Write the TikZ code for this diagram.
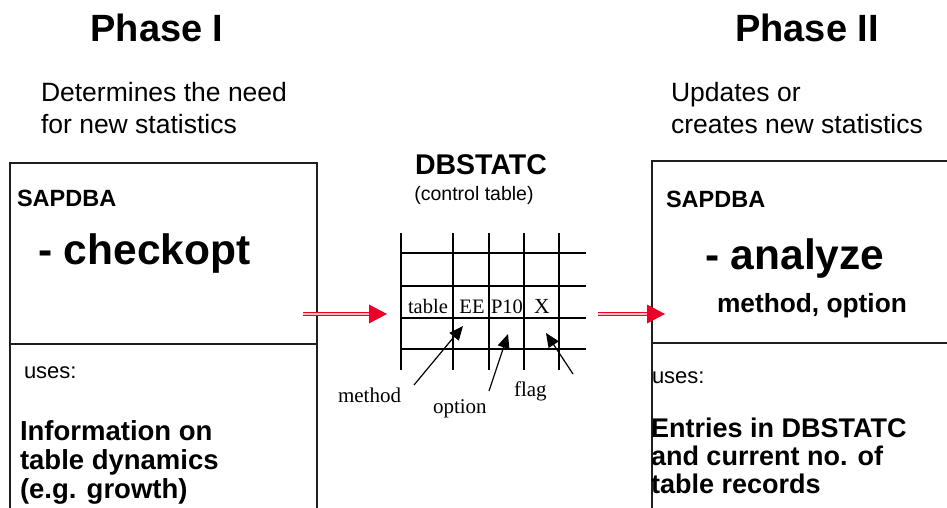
\documentclass[tikz,border=0pt]{standalone}
\usepackage{fontspec}
\setmainfont{Liberation Sans}
\newfontfamily\tms{Liberation Serif}
\usetikzlibrary{arrows.meta,calc}
\definecolor{arrred}{RGB}{236,0,40}
\definecolor{arrpink}{RGB}{255,190,200}
\definecolor{linegray}{RGB}{30,30,30}
\tikzset{
  txt/.style={inner sep=0pt, outer sep=0pt, anchor=base west},
  ctxt/.style={inner sep=0pt, outer sep=0pt, anchor=base},
  boxline/.style={draw=linegray, line width=1.3pt},
  gridline/.style={draw=black, line width=1.2pt},
  redshaft/.style={draw=arrred, line width=1.1pt, double=arrpink, double distance=2pt},
  redhead/.style={fill=arrred},
  pointer/.style={draw=black, line width=1.2pt, -{Triangle[length=14pt,width=12pt]}},
}
\newcommand{\fs}[1]{\fontsize{#1}{#1}\selectfont}
\begin{document}
\begin{tikzpicture}[x=1pt,y=-1pt]
\useasboundingbox (0,0) rectangle (947,508);
\clip (0,0) rectangle (947,508);
\fill[white] (0,0) rectangle (947,508);

% titles
\node[ctxt] (ph1) at (157,42) {\fs{38}\bfseries Phase I};
\node[ctxt] (ph2) at (807,42) {\fs{38}\bfseries Phase II};
\node[txt] (d1) at (41,102) {\fs{26.5}Determines the need};
\node[txt] (d2) at (41,133) {\fs{26.5}for new statistics};
\node[txt] (u1) at (671,102) {\fs{26.5}Updates or};
\node[txt] (u2) at (671,133) {\fs{26.5}creates new statistics};

% left box
\path[boxline] (10,520) -- (10,163) -- (317,163) -- (317,520);
\path[boxline] (10,344) -- (317,344);
\node[txt] (ls) at (17,206) {\fs{23.5}\bfseries SAPDBA};
\node[txt] (lc) at (38,264) {\fs{42.5}\bfseries - checkopt};
\node[txt] (lu) at (24,378) {\fs{22}uses:};
\node[txt] (li1) at (20,440) {\fs{27.5}\bfseries Information on};
\node[txt] (li2) at (20,469) {\fs{27.5}\bfseries table dynamics};
\node[txt] (li3) at (20,498) {\fs{27.5}\bfseries (e.g. growth)};

% right box
\path[boxline] (652,520) -- (652,161) -- (960,161);
\path[boxline] (652,343) -- (960,343);
\node[txt] (rs) at (666,207) {\fs{23.5}\bfseries SAPDBA};
\node[txt] (ra) at (705,269) {\fs{42.5}\bfseries - analyze};
\node[txt] (rm) at (717,312) {\fs{26.3}\bfseries method, option};
\node[txt] (ru) at (652,383) {\fs{22}uses:};
\node[txt] (re1) at (651,437) {\fs{27}\bfseries Entries in DBSTATC};
\node[txt] (re2) at (651,465) {\fs{27}\bfseries and current no. of};
\node[txt] (re3) at (651,493) {\fs{27}\bfseries table records};

% control table
\node[ctxt] (db) at (481,174) {\fs{28.5}\bfseries DBSTATC};
\node[ctxt] (ct) at (474,200) {\fs{19.5}(control table)};
\foreach \x in {401,453,489,524,559} \path[gridline] (\x,233) -- (\x,370);
\foreach \y in {253,286,318,349} \path[gridline] (401,\y) -- (586,\y);
\node[txt] (ctab) at (408,313) {\tms\fs{20.5}table};
\node[ctxt] (cee) at (472,313) {\tms\fs{20.5}EE};
\node[ctxt] (cp) at (507,313) {\tms\fs{20.5}P10};
\node[ctxt] (cx) at (542,313) {\tms\fs{21.5}X};

% pointer labels
\node[txt] (lm) at (338,402) {\tms\fs{21}method};
\node[txt] (lo) at (433,413) {\tms\fs{21}option};
\node[txt] (lf) at (514,396) {\tms\fs{21}flag};
\coordinate (m0) at (414,385); \coordinate (m1) at (463,326);
\coordinate (o0) at (489,391); \coordinate (o1) at (508,334);
\coordinate (f0) at (573,374); \coordinate (f1) at (546,333);
\draw[pointer] (m0) -- (m1);
\draw[pointer] (o0) -- (o1);
\draw[pointer] (f0) -- (f1);

% red arrows
\coordinate (a0) at (303,314); \coordinate (a1) at (369,314); \coordinate (a2) at (387,314);
\coordinate (b0) at (598,314); \coordinate (b1) at (647,314); \coordinate (b2) at (665,314);
\path[redshaft] (a0) -- (a1);
\path[redhead] ($(a1)+(0,-9.5)$) -- (a2) -- ($(a1)+(0,9.5)$) -- cycle;
\path[redshaft] (b0) -- (b1);
\path[redhead] ($(b1)+(0,-9.5)$) -- (b2) -- ($(b1)+(0,9.5)$) -- cycle;
\end{tikzpicture}
\end{document}
